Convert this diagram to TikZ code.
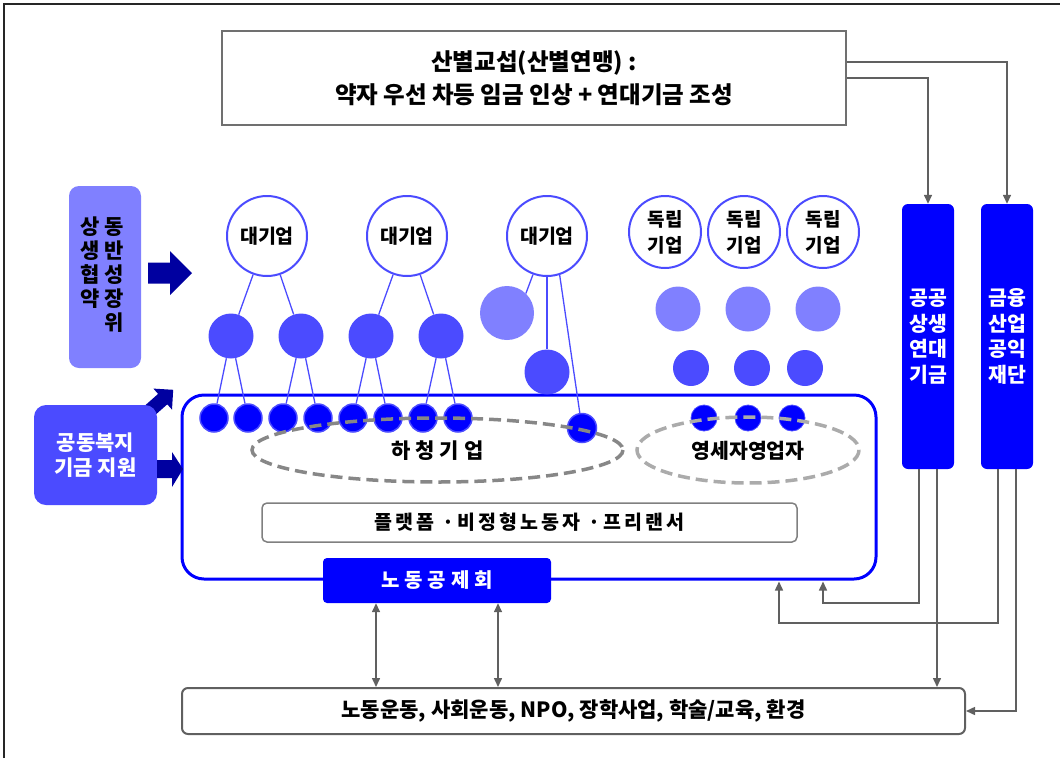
\documentclass[tikz,border=0pt]{standalone}
\usepackage{fontspec}
\setmainfont{Noto Sans CJK KR}
\usetikzlibrary{arrows.meta,calc}
\definecolor{cBlue}{HTML}{0000FF}
\definecolor{cMid}{HTML}{4B4BFF}
\definecolor{cLight}{HTML}{8080FF}
\definecolor{cNavy}{HTML}{0000A0}
\definecolor{cGray}{HTML}{606060}
\begin{document}
\begin{tikzpicture}[x=1pt,y=-1pt,
  big/.style={circle, draw=cMid, line width=2, fill=white, minimum size=80, inner sep=0, font=\bfseries\fontsize{19.5}{22}\selectfont, align=center},
  indep/.style={big, minimum size=72, font=\bfseries\fontsize{19}{26}\selectfont},
  mid/.style={circle, fill=cMid, minimum size=45, inner sep=0},
  light/.style={circle, fill=cLight, minimum size=45, inner sep=0},
  small/.style={circle, fill=cBlue, draw=cMid, line width=1.5, minimum size=28, inner sep=0},
  link/.style={draw=cMid, line width=1.3},
  conn/.style={draw=cGray, line width=1.5, -{Triangle[length=9pt, width=8pt]}},
  dbl/.style={draw=cGray, line width=1.5, {Triangle[length=9pt,width=8pt]}-{Triangle[length=9pt,width=8pt]}},
  fund/.style={rectangle, rounded corners=6, fill=cBlue, minimum width=52, minimum height=265, inner sep=0, text=white, font=\bfseries\fontsize{20.5}{25.5}\selectfont, align=center},
  lbl/.style={font=\bfseries\fontsize{20.5}{24}\selectfont}
]
\useasboundingbox (0,0) rectangle (1060,758);
% frame
\draw[line width=1.5, black!85] (4,758) -- (4,4) -- (1060,4);

% top box
\node[draw=cGray!90, line width=2.5, minimum width=624, minimum height=94, inner sep=0, align=center,
      font=\bfseries\fontsize{23.5}{33}\selectfont] (top) at (534,78)
  {산별교섭(산별연맹) :\\약자 우선 차등 임금 인상 + 연대기금 조성};

% big box
\node[draw=cBlue, line width=3, rounded corners=22, minimum width=694, minimum height=184, inner sep=0] (bigbox) at (529,487) {};

% circle nodes
\node[big] (b1) at (267,236) {대기업};
\node[big] (b2) at (407,236) {대기업};
\node[big] (b3) at (547,236) {대기업};
\node[indep] (i1) at (665,232) {독립\\기업};
\node[indep] (i2) at (744,232) {독립\\기업};
\node[indep] (i3) at (823,232) {독립\\기업};

\node[mid] (m1) at (231,336) {};
\node[mid] (m2) at (301,336) {};
\node[mid] (m3) at (371,336) {};
\node[mid] (m4) at (441,336) {};
\node[mid] (m5) at (547,372) {};
\node[light, minimum size=54] (l0) at (507,313) {};
\node[light] (l1) at (678,309) {};
\node[light] (l2) at (748,309) {};
\node[light] (l3) at (818,309) {};
\node[mid, minimum size=36] (n1) at (691,368) {};
\node[mid, minimum size=36] (n2) at (752,368) {};
\node[mid, minimum size=36] (n3) at (805,368) {};

\node[small] (s1) at (214,418) {};
\node[small] (s2) at (248,418) {};
\node[small] (s3) at (283,418) {};
\node[small] (s4) at (318,418) {};
\node[small] (s5) at (353,418) {};
\node[small] (s6) at (388,418) {};
\node[small] (s7) at (423,418) {};
\node[small] (s8) at (458,418) {};
\node[small, minimum size=29] (sx) at (582,428) {};
\node[small, minimum size=26, line width=0.8] (y1) at (704,418) {};
\node[small, minimum size=26, line width=0.8] (y2) at (748,418) {};
\node[small, minimum size=26, line width=0.8] (y3) at (792,418) {};

% links
\draw[link] (b1) -- (m1);
\draw[link] (b1) -- (m2);
\draw[link] (b2) -- (m3);
\draw[link] (b2) -- (m4);
\draw[link] (m1) -- (s1); \draw[link] (m1) -- (s2);
\draw[link] (m2) -- (s3); \draw[link] (m2) -- (s4);
\draw[link] (m3) -- (s5); \draw[link] (m3) -- (s6);
\draw[link] (m4) -- (s7); \draw[link] (m4) -- (s8);
\draw[link] (b3.250) -- (l0.46);
\draw[link] (b3) -- (m5);
\draw[link] (b3.288) -- (sx);

% ellipses
\draw[draw=black!47, line width=3.5, dash pattern=on 12pt off 6pt] (437.5,450) ellipse [x radius=185.5, y radius=32];
\draw[draw=black!33, line width=3.5, dash pattern=on 12pt off 6pt] (748,450) ellipse [x radius=111, y radius=33];
\node[font=\bfseries\fontsize{21}{24}\selectfont] (hc) at (437.5,451) {하 청 기 업};
\node[lbl] (ys) at (748,451) {영세자영업자};

% platform box
\node[draw=black!50, line width=1.5, rounded corners=5, minimum width=535, minimum height=39, inner sep=0,
      font=\bfseries\fontsize{19.5}{22}\selectfont] (plat) at (529.5,522.5)
  {\addfontfeature{LetterSpace=16}플랫폼 ·비정형노동자 ·프리랜서};

% 노동공제회
\node[fill=cBlue, rounded corners=4, minimum width=228, minimum height=45, inner sep=0, text=white,
      font=\bfseries\fontsize{20}{24}\selectfont] (noco) at (437,580.5)
  {\addfontfeature{LetterSpace=25}노동공제회};

% left side
\node[fill=cLight, rounded corners=10, minimum width=72, minimum height=182, inner sep=0] (dbox) at (105,277) {};
\node[anchor=north, inner sep=0, font=\bfseries\fontsize{21}{20.8}\selectfont] (dtxt) at (102,217)
  {\setlength{\tabcolsep}{0pt}\renewcommand{\arraystretch}{1}%
   \begin{tabular}{c@{\hspace{5pt}}c}상&동\\생&반\\협&성\\약&장\\ &위\end{tabular}};
\fill[cNavy] (148,262.5) -- (170,262.5) -- (170,251) -- (192,273) -- (170,295) -- (170,283.5) -- (148,283.5) -- cycle;

% diagonal arrow
\fill[cNavy] (151.6,418.2) -- (167.3,404.3) -- (172.0,409.6) -- (173.2,389.8) -- (153.4,388.6) -- (158.1,393.9) -- (142.4,407.8) -- cycle;

\node[fill=cMid, rounded corners=12, minimum width=123, minimum height=100, inner sep=0, text=white, align=center,
      font=\bfseries\fontsize{21}{25}\selectfont] (gbox) at (95.5,455) {공동복지\\기금 지원};
\fill[cNavy] (157,460) -- (172,460) -- (172,452) -- (183,469) -- (172,487) -- (172,478) -- (157,478) -- cycle;

% fund boxes
\node[fund] (fa) at (928,336.5) {공공\\상생\\연대\\기금};
\node[fund] (fb) at (1007,336.5) {금융\\산업\\공익\\재단};

% bottom box
\node[draw=cGray, line width=2, rounded corners=6, minimum width=783, minimum height=46, inner sep=0,
      font=\bfseries\fontsize{21}{24}\selectfont] (bottom) at (573.5,711)
  {노동운동, 사회운동, NPO, 장학사업, 학술/교육, 환경};

% connectors
\draw[conn] (top.east) -| (fa.north);
\draw[conn] ([yshift=16pt]top.east) -| (fb.north);
\coordinate (j1) at (823,603);
\coordinate (j2) at (779,623);
\draw[conn] ([xshift=-9pt]fa.south) |- (j1) -- ([yshift=-1pt]j1 |- bigbox.south);
\draw[conn] ([xshift=-9pt]fb.south) |- (j2) -- ([yshift=-1pt]j2 |- bigbox.south);
\draw[conn] ([xshift=9pt]fa.south) -- ([xshift=9pt]fa.south |- bottom.north);
\draw[conn] ([xshift=9pt]fb.south) |- (bottom.east);
\draw[dbl] ([xshift=-61pt]noco.south) -- ([xshift=-61pt]noco.south |- bottom.north);
\draw[dbl] ([xshift=61pt]noco.south) -- ([xshift=61pt]noco.south |- bottom.north);
\end{tikzpicture}
\end{document}
